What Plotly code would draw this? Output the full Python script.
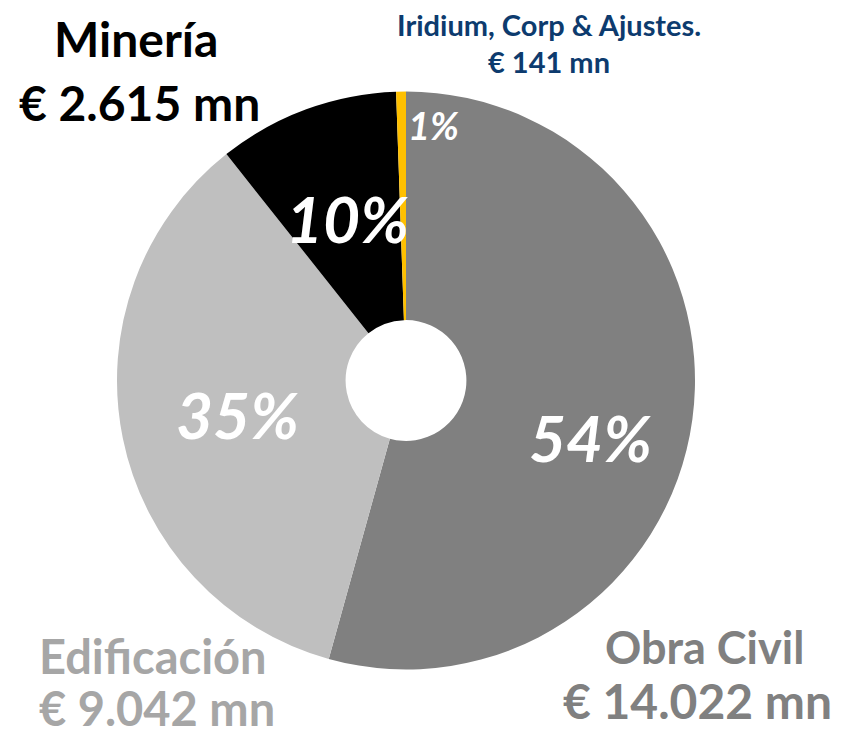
import plotly.graph_objects as go

segments = ["Obra Civil", "Edificación", "Minería", "Iridium, Corp & Ajustes."]
values_mn = [14022, 9042, 2615, 141]
slice_colors = ["#808080", "#bfbfbf", "#000000", "#ffc000"]
label_colors = ["#808080", "#a6a6a6", "#000000", "#0d3b6e"]

total = sum(values_mn)
pct_text = [f"{round(v / total * 100)}%" for v in values_mn]
amount_text = [f"€ {v:,} mn".replace(",", ".") for v in values_mn]

FONT = "Lato"
W, H = 845, 738
OFF = 8  # page body margin offset


def px(x, y):
    return (x - OFF) / W, 1 - (y - OFF) / H


x0, _ = px(117, 0)
x1, _ = px(695, 0)
_, y0 = px(0, 669.5)
_, y1 = px(0, 91.5)

fig = go.Figure(
    go.Pie(
        labels=segments,
        values=values_mn,
        sort=False,
        direction="clockwise",
        rotation=0,
        hole=0.209,
        marker=dict(colors=slice_colors, line=dict(width=0)),
        textinfo="none",
        showlegend=False,
        domain=dict(x=[x0, x1], y=[y0, y1]),
    )
)

annotations = []

# percent labels inside slices (center positions in pixels)
pct_pos = [(590, 440), (237, 416), (347, 220), (433, 127)]
pct_size = [64, 64, 64, 38]
for t, (x, y), s in zip(pct_text, pct_pos, pct_size):
    ax, ay = px(x, y - 2)
    annotations.append(dict(
        x=ax, y=ay, xref="paper", yref="paper", xanchor="center", yanchor="middle",
        text=f"<b><i>{t}</i></b>", showarrow=False,
        font=dict(family=FONT, size=s, color="white"),
    ))

# outside category labels: (name center, name size), (amount center, amount size)
outer = [
    ((704, 650), 45, (697, 703), 48),
    ((153, 659), 47, (157, 711), 47),
    ((136, 41), 48, (139, 106), 48),
    ((549, 28), 29, (549, 64), 29),
]
for i, (p1, s1, p2, s2) in enumerate(outer):
    for txt, (x, y), s in ((segments[i], p1, s1), (amount_text[i], p2, s2)):
        ax, ay = px(x, y - 3)
        annotations.append(dict(
            x=ax, y=ay, xref="paper", yref="paper", xanchor="center", yanchor="middle",
            text=f"<b>{txt}</b>", showarrow=False,
            font=dict(family=FONT, size=s, color=label_colors[i]),
        ))

fig.update_layout(
    width=W, height=H,
    margin=dict(l=0, r=0, t=0, b=0),
    paper_bgcolor="white", plot_bgcolor="white",
    annotations=annotations,
)

fig.write_html("out.html")
